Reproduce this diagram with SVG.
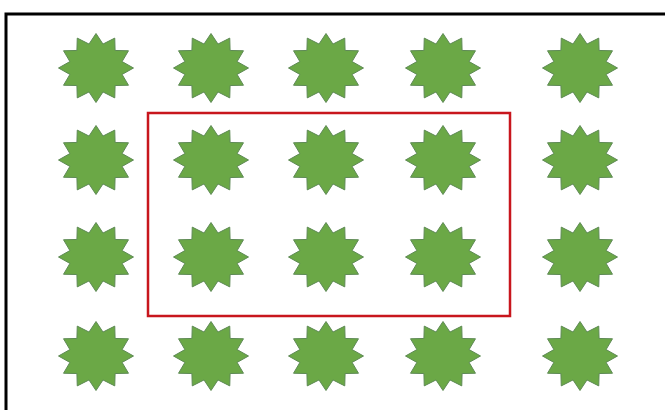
<svg xmlns="http://www.w3.org/2000/svg" xmlns:xlink="http://www.w3.org/1999/xlink" width="665" height="410" viewBox="0 0 665 410">
<style>
.star{fill:#6BA846;stroke:#5E8A55;stroke-width:1;stroke-linejoin:miter}
.frame{fill:none;stroke:#000;stroke-width:3}
.sel{fill:none;stroke:#C8161D;stroke-width:2.5}
</style>
<defs>
<polygon id="star12" class="star" points="0,-34.5 6.99,-23.95 18.75,-29.88 19.09,-17.54 32.48,-17.25 26.08,-6.42 37.5,0 26.08,6.42 32.48,17.25 19.09,17.54 18.75,29.88 6.99,23.95 0,34.5 -6.99,23.95 -18.75,29.88 -19.09,17.54 -32.48,17.25 -26.08,6.42 -37.5,0 -26.08,-6.42 -32.48,-17.25 -19.09,-17.54 -18.75,-29.88 -6.99,-23.95"/>
</defs>
<rect width="665" height="410" fill="#fff"/>
<rect class="frame" x="6" y="14" width="700" height="420"/>
<g id="stars">
<g id="s11"><use xlink:href="#star12" x="96" y="68"/></g>
<g id="s12"><use xlink:href="#star12" x="211" y="68"/></g>
<g id="s13"><use xlink:href="#star12" x="326" y="68"/></g>
<g id="s14"><use xlink:href="#star12" x="443" y="68"/></g>
<g id="s15"><use xlink:href="#star12" x="580" y="68"/></g>
<g id="s21"><use xlink:href="#star12" x="96" y="160"/></g>
<g id="s22"><use xlink:href="#star12" x="211" y="160"/></g>
<g id="s23"><use xlink:href="#star12" x="326" y="160"/></g>
<g id="s24"><use xlink:href="#star12" x="443" y="160"/></g>
<g id="s25"><use xlink:href="#star12" x="580" y="160"/></g>
<g id="s31"><use xlink:href="#star12" x="96" y="257"/></g>
<g id="s32"><use xlink:href="#star12" x="211" y="257"/></g>
<g id="s33"><use xlink:href="#star12" x="326" y="257"/></g>
<g id="s34"><use xlink:href="#star12" x="443" y="257"/></g>
<g id="s35"><use xlink:href="#star12" x="580" y="257"/></g>
<g id="s41"><use xlink:href="#star12" x="96" y="356"/></g>
<g id="s42"><use xlink:href="#star12" x="211" y="356"/></g>
<g id="s43"><use xlink:href="#star12" x="326" y="356"/></g>
<g id="s44"><use xlink:href="#star12" x="443" y="356"/></g>
<g id="s45"><use xlink:href="#star12" x="580" y="356"/></g>
</g>
<g id="selection"><rect class="sel" x="148" y="113" width="362" height="203"/></g>
</svg>
